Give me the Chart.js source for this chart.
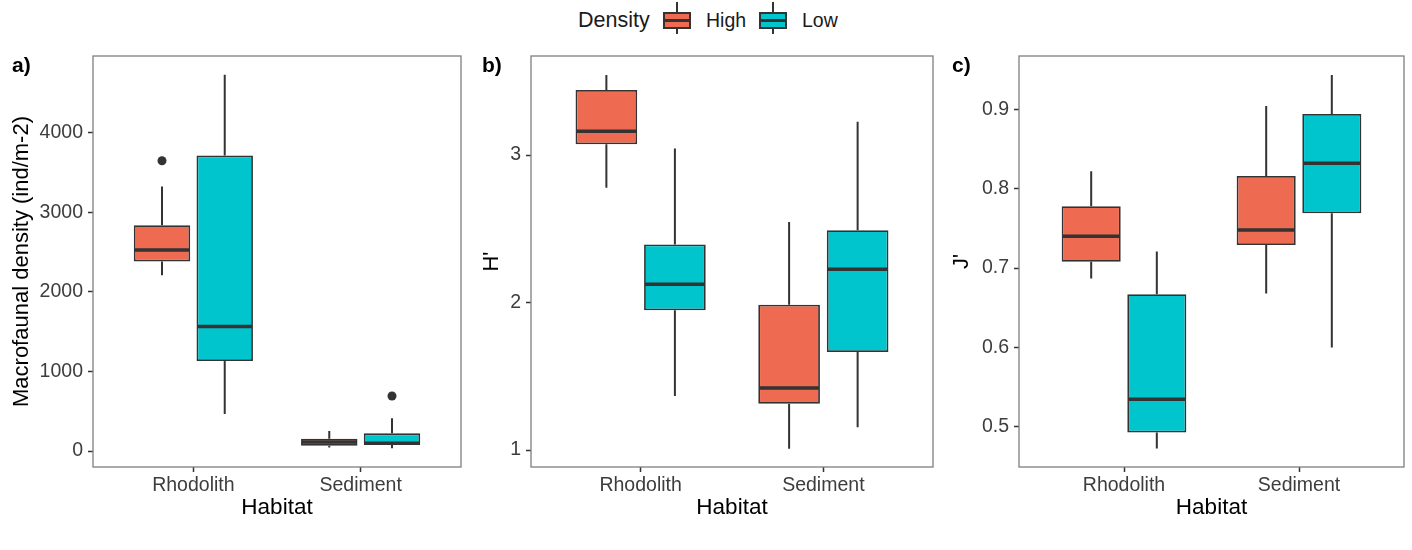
<!DOCTYPE html>
<html>
<head>
<meta charset="utf-8">
<script src="https://cdn.jsdelivr.net/npm/chart.js@4.4.1/dist/chart.umd.min.js"></script>
<style>
  body { margin: 0; background: #fff; font-family: "Liberation Sans", Arial, sans-serif; }
  #wrap { position: relative; width: 1412px; height: 550px; overflow: hidden; }
  .panel { position: absolute; top: 0; height: 550px; }
  .lg { position: absolute; color: #1a1a1a; white-space: nowrap; line-height: 1; }
  .key { position: absolute; top: 2px; width: 28px; height: 32px; }
  .key .wh { position: absolute; left: 13px; top: 0; width: 2px; height: 32px; background: #333; }
  .key .bx { position: absolute; left: 0; top: 10px; width: 28px; height: 17px; border: 2px solid #333; box-sizing: border-box; }
  .key .md { position: absolute; left: 0; top: 17px; width: 28px; height: 3px; background: #333; }
</style>
</head>
<body>
<div id="wrap">
  <div class="lg" style="left:578px; top:10px; font-size:21.5px;">Density</div>
  <div class="key" style="left:663px;"><div class="wh"></div><div class="bx" style="background:#EE6A50"></div><div class="md"></div></div>
  <div class="lg" style="left:706px; top:11px; font-size:19.5px;">High</div>
  <div class="key" style="left:759px;"><div class="wh"></div><div class="bx" style="background:#00C5CD"></div><div class="md"></div></div>
  <div class="lg" style="left:802px; top:11px; font-size:19.5px;">Low</div>

  <div class="panel" style="left:0; width:470px;"><canvas id="panelA"></canvas></div>
  <div class="panel" style="left:470px; width:470px;"><canvas id="panelB"></canvas></div>
  <div class="panel" style="left:940px; width:472px;"><canvas id="panelC"></canvas></div>
</div>
<script>
// categories and groups
const habitats = ['Rhodolith', 'Sediment'];
const groups = ['High', 'Low'];

// five-number summaries per habitat: [lower whisker, Q1, median, Q3, upper whisker]
// a) macrofaunal density
const densityHigh = [[2210, 2381, 2528, 2839, 3325], [45, 67, 112, 155, 252]];
const densityLow = [[465, 1132, 1564, 3715, 4730], [34, 75, 97, 222, 411]];
const densityHighOut = [[3648], []];
const densityLowOut = [[], [692]];
const densityTicks = [0, 1000, 2000, 3000, 4000];

// b) Shannon H'
const shannonHigh = [[2.778, 3.073, 3.161, 3.441, 3.543], [1.009, 1.314, 1.420, 1.986, 2.547]];
const shannonLow = [[1.366, 1.948, 2.124, 2.394, 3.045], [1.155, 1.665, 2.226, 2.491, 3.226]];
const shannonTicks = [1, 2, 3];

// c) Pielou J'
const evennessHigh = [[0.687, 0.708, 0.740, 0.778, 0.822], [0.668, 0.729, 0.748, 0.816, 0.904]];
const evennessLow = [[0.473, 0.493, 0.535, 0.667, 0.721], [0.600, 0.769, 0.832, 0.894, 0.943]];
const evennessTicks = [0.5, 0.6, 0.7, 0.8, 0.9];

const fills = ['#EE6A50', '#00C5CD'];
const ink = '#333333';
const fontFam = '"Liberation Sans", Arial, sans-serif';
const dodge = 0.375;

// whiskers, medians and the panel frame
const boxParts = {
  id: 'boxParts',
  beforeDatasetsDraw(chart) {
    const y = chart.scales.y, ctx = chart.ctx;
    ctx.save();
    ctx.strokeStyle = ink;
    ctx.lineWidth = 2;
    chart.data.datasets.forEach((ds, d) => {
      if (!ds.stats) return;
      chart.getDatasetMeta(d).data.forEach((bar, i) => {
        const s = ds.stats[i];
        ctx.beginPath();
        ctx.moveTo(bar.x, y.getPixelForValue(s[4]));
        ctx.lineTo(bar.x, y.getPixelForValue(s[3]));
        ctx.moveTo(bar.x, y.getPixelForValue(s[1]));
        ctx.lineTo(bar.x, y.getPixelForValue(s[0]));
        ctx.stroke();
      });
    });
    ctx.restore();
  },
  afterDatasetsDraw(chart) {
    const y = chart.scales.y, ctx = chart.ctx;
    ctx.save();
    ctx.strokeStyle = ink;
    ctx.lineWidth = 3.5;
    chart.data.datasets.forEach((ds, d) => {
      if (!ds.stats) return;
      chart.getDatasetMeta(d).data.forEach((bar, i) => {
        const py = y.getPixelForValue(ds.stats[i][2]);
        ctx.beginPath();
        ctx.moveTo(bar.x - bar.width / 2 + 1, py);
        ctx.lineTo(bar.x + bar.width / 2 - 1, py);
        ctx.stroke();
      });
    });
    const a = chart.chartArea;
    ctx.strokeStyle = '#7f7f7f';
    ctx.lineWidth = 1.3;
    ctx.strokeRect(a.left, a.top, a.right - a.left, a.bottom - a.top);
    ctx.restore();
  }
};

function panelTag(text) {
  return {
    id: 'panelTag',
    afterDraw(chart) {
      const ctx = chart.ctx;
      ctx.save();
      ctx.fillStyle = '#000';
      ctx.font = 'bold 21px ' + fontFam;
      ctx.textBaseline = 'alphabetic';
      ctx.fillText(text, 12, 72);
      ctx.restore();
    }
  };
}

function makePanel(id, tag, high, low, highOut, lowOut, ticks, yMin, yMax, yTitle, yWidth, padRight, fmt) {
  const outliers = [];
  [highOut, lowOut].forEach((set, g) => {
    set.forEach((vals, i) => vals.forEach(v => outliers.push({ x: i + 1 + (g - 0.5) * dodge, y: v })));
  });
  const boxes = [high, low].map((stats, g) => ({
    label: groups[g],
    stats: stats,
    data: stats.map((s, i) => ({ x: i + 1, y: [s[1], s[3]] })),
    backgroundColor: fills[g],
    borderColor: ink,
    borderWidth: 1.8,
    borderSkipped: false,
    categoryPercentage: 0.75,
    barPercentage: 0.9
  }));
  return new Chart(document.getElementById(id), {
    type: 'bar',
    data: {
      datasets: boxes.concat([{
        type: 'scatter',
        label: 'outliers',
        data: outliers,
        pointRadius: 4.5,
        pointBackgroundColor: ink,
        pointBorderWidth: 0
      }])
    },
    options: {
      responsive: true,
      maintainAspectRatio: false,
      animation: false,
      layout: { padding: { top: 56, right: padRight, bottom: 0, left: 0 } },
      plugins: { legend: { display: false }, tooltip: { enabled: false } },
      scales: {
        x: {
          type: 'linear',
          min: 0.4,
          max: 2.6,
          offset: false,
          afterBuildTicks: s => { s.ticks = habitats.map((h, i) => ({ value: i + 1 })); },
          afterFit: s => { s.height = 83; },
          ticks: {
            callback: v => habitats[v - 1],
            color: '#3d3d3d',
            font: { family: fontFam, size: 19.5 },
            padding: 2,
            maxRotation: 0,
            autoSkip: false
          },
          grid: { drawOnChartArea: false, offset: false, tickLength: 5, tickColor: ink, tickWidth: 1.5 },
          border: { display: false },
          title: {
            display: true,
            text: 'Habitat',
            color: '#000',
            font: { family: fontFam, size: 22.5 },
            padding: { top: 0, bottom: 29 }
          }
        },
        y: {
          min: yMin,
          max: yMax,
          afterBuildTicks: s => { s.ticks = ticks.map(v => ({ value: v })); },
          afterFit: s => { s.width = yWidth; },
          ticks: {
            callback: fmt,
            color: '#3d3d3d',
            font: { family: fontFam, size: 19.5 },
            padding: 5
          },
          grid: { drawOnChartArea: false, tickLength: 5, tickColor: ink, tickWidth: 1.5 },
          border: { display: false },
          title: {
            display: true,
            text: yTitle,
            color: '#000',
            font: { family: fontFam, size: 22 },
            padding: { top: 9, bottom: 0 }
          }
        }
      }
    },
    plugins: [boxParts, panelTag(tag)]
  });
}

makePanel('panelA', 'a)', densityHigh, densityLow, densityHighOut, densityLowOut, densityTicks,
  -201, 4965, 'Macrofaunal density (ind/m-2)', 93, 9, v => String(v));
makePanel('panelB', 'b)', shannonHigh, shannonLow, [[], []], [[], []], shannonTicks,
  0.885, 3.672, "H'", 61, 7, v => String(v));
makePanel('panelC', 'c)', evennessHigh, evennessLow, [[], []], [[], []], evennessTicks,
  0.4496, 0.967, "J'", 79, 8, v => v.toFixed(1));
</script>
</body>
</html>
